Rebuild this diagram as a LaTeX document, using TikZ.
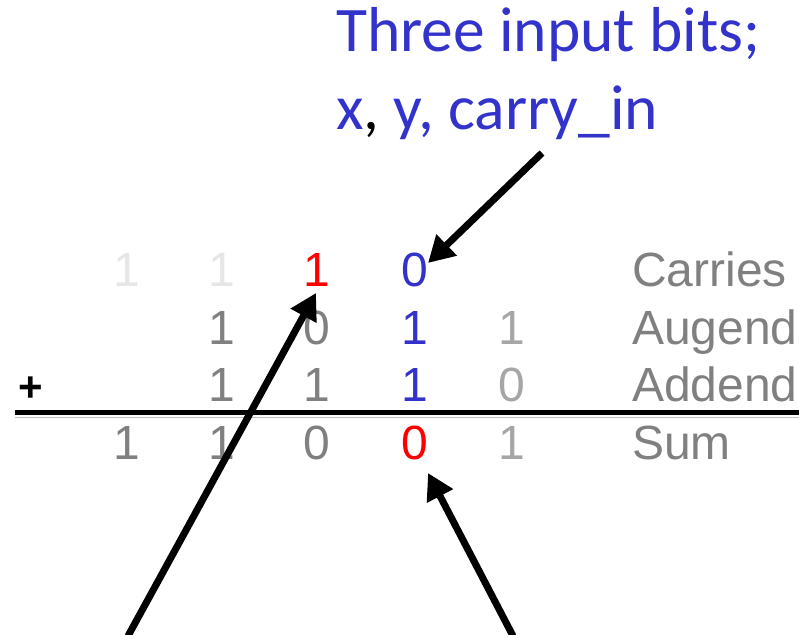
\documentclass[tikz,border=0pt]{standalone}
\usepackage{fontspec}
\setmainfont{Liberation Sans}
\newfontfamily\calfont{Carlito}
\usetikzlibrary{arrows.meta}
\definecolor{tblue}{HTML}{3333CC}
\definecolor{tred}{HTML}{FF0000}
\definecolor{dgray}{HTML}{808080}
\definecolor{mgray}{HTML}{A6A6A6}
\definecolor{lgray}{HTML}{E6E6E6}
\begin{document}
\begin{tikzpicture}[x=1pt,y=1pt,
  digit/.style={anchor=base,inner sep=0pt,font=\fontsize{48}{48}\selectfont},
  rowlabel/.style={anchor=base west,inner sep=0pt,text=dgray,font=\fontsize{48}{48}\selectfont},
  title/.style={anchor=base west,inner sep=0pt,text=tblue,font=\calfont\fontsize{63.5}{63.5}\selectfont},
  pointer/.style={line width=7pt,-{Triangle[length=26pt,width=28pt]}}]
\useasboundingbox (0,0) rectangle (799,634);
% title
\node[title] (t1) at (336,582) {Three input bits;};
\node[title] (t2) at (336,504) {x\textcolor{black}{,} y, carry\_in};
% carries
\node[digit,text=lgray] (c1) at (127,347) {1};
\node[digit,text=lgray] (c2) at (222,347) {1};
\node[digit,text=tred] (c3) at (317,347) {1};
\node[digit,text=tblue] (c4) at (415,347) {0};
% augend
\node[digit,text=dgray] (a2) at (222,289) {1};
\node[digit,text=dgray] (a3) at (317,289) {0};
\node[digit,text=tblue] (a4) at (415,289) {1};
\node[digit,text=mgray] (a5) at (512,289) {1};
% addend
\node[digit,text=dgray] (d2) at (222,232) {1};
\node[digit,text=dgray] (d3) at (317,232) {1};
\node[digit,text=tblue] (d4) at (415,232) {1};
\node[digit,text=mgray] (d5) at (512,232) {0};
% sum
\node[digit,text=dgray] (s1) at (127,174) {1};
\node[digit,text=dgray] (s2) at (222,174) {1};
\node[digit,text=dgray] (s3) at (317,174) {0};
\node[digit,text=tred] (s4) at (415,174) {0};
\node[digit,text=mgray] (s5) at (512,174) {1};
% labels
\node[rowlabel] (lc) at (632,347) {Carries};
\node[rowlabel] (la) at (632,289) {Augend};
\node[rowlabel] (ld) at (632,232) {Addend};
\node[rowlabel] (ls) at (632,174) {Sum};
% plus sign
\node[anchor=base,inner sep=0pt,font=\bfseries\fontsize{42}{42}\selectfont] (plus) at (31,232) {+};
% rule
\coordinate (rl) at (15,221);
\coordinate (rr) at (799,221);
\draw[line width=5pt] (rl) -- (rr);
\coordinate (gl) at (15,216.5);
\coordinate (gr) at (799,216.5);
\draw[line width=1pt,black!25] (gl) -- (gr);
% arrows
\coordinate (p1s) at (542,481);
\coordinate (p1e) at (428,371);
\coordinate (p2s) at (128,-2);
\coordinate (p2e) at (316,341);
\coordinate (p3s) at (513,-2);
\coordinate (p3e) at (428,161);
\draw[pointer] (p1s) -- (p1e);
\draw[pointer] (p2s) -- (p2e);
\draw[pointer] (p3s) -- (p3e);
\end{tikzpicture}
\end{document}
